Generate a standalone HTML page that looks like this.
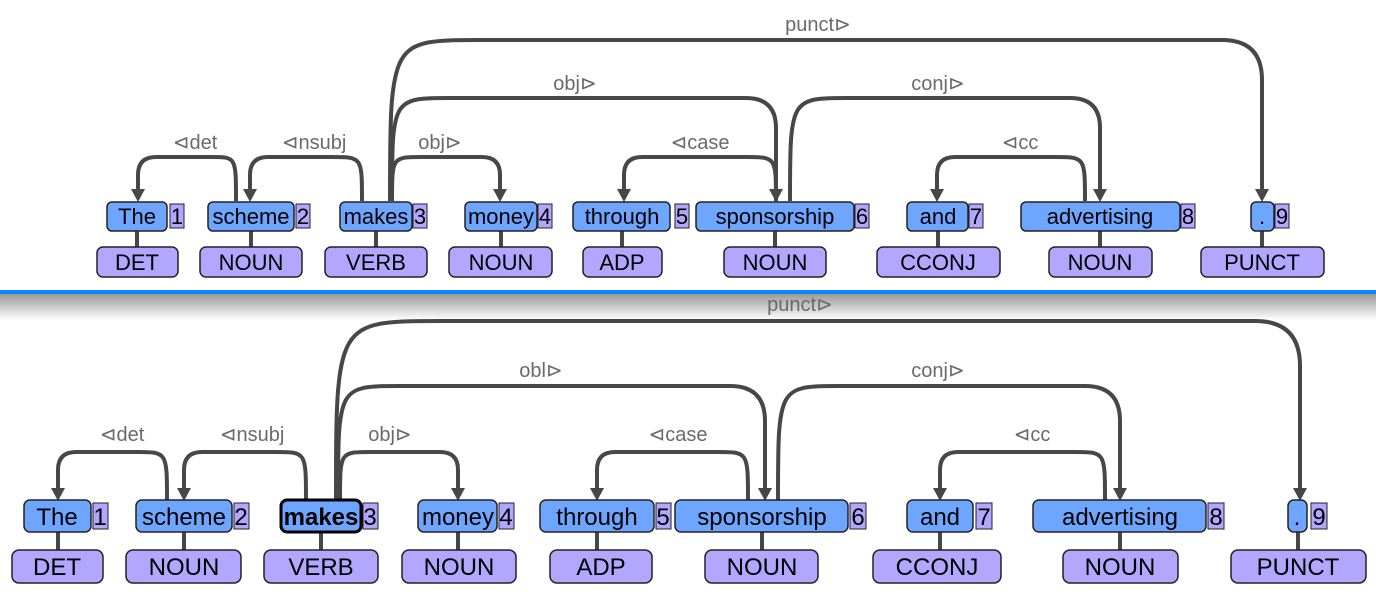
<!DOCTYPE html>
<html><head><meta charset="utf-8"><style>
html,body{margin:0;padding:0;background:#fff;width:1376px;height:594px;overflow:hidden}
svg{display:block}
text{font-family:"Liberation Sans",sans-serif}
.w{fill:#6ea6ff;stroke:#222;stroke-width:1.5}
.n{fill:#b3a6ff;stroke:#222;stroke-width:1}
.p{fill:#b3a6ff;stroke:#222;stroke-width:1.5}
.a{fill:none;stroke:#474747;stroke-width:4}
.h{fill:#474747}
.l{fill:#6a6a6a;font-size:20px;text-anchor:middle}
.t{fill:#000;text-anchor:middle}
.c{stroke:#474747;stroke-width:4}
</style></head><body>
<svg width="1376" height="594" viewBox="0 0 1376 594">
<defs><linearGradient id="g" x1="0" y1="0" x2="0" y2="1"><stop offset="0" stop-color="#9a9a9a"/><stop offset="1" stop-color="#fff"/></linearGradient></defs>
<rect x="0" y="294" width="1376" height="26" fill="url(#g)"/>
<rect x="0" y="290" width="1376" height="4" fill="#0a84ff"/>

<g>
<path class="a" d="M236,201 C236,157 236,157 212,157 L156,157 Q138,157 138,175 L138,190"/><polygon class="h" points="131,189 145,189 138,202"/>
<path class="a" d="M362,201 C362,157 362,157 332,157 L268,157 Q250,157 250,175 L250,190"/><polygon class="h" points="243,189 257,189 250,202"/>
<path class="a" d="M392,201 C392,157 392,157 422,157 L482,157 Q500,157 500,175 L500,190"/><polygon class="h" points="493,189 507,189 500,202"/>
<path class="a" d="M776,201 C776,157 776,157 746,157 L642,157 Q624,157 624,175 L624,190"/><polygon class="h" points="617,189 631,189 624,202"/>
<path class="a" d="M1085,201 C1085,157 1085,157 1055,157 L955,157 Q937,157 937,175 L937,190"/><polygon class="h" points="930,189 944,189 937,202"/>
<path class="a" d="M392,201 C392,98 392,98 450,98 L746,98 Q776,98 776,128 L776,190"/><polygon class="h" points="769,189 783,189 776,202"/>
<path class="a" d="M790,201 C790,98 790,98 848,98 L1070,98 Q1100,98 1100,128 L1100,190"/><polygon class="h" points="1093,189 1107,189 1100,202"/>
<path class="a" d="M390,201 C390,40 390,40 480,40 L1222,40 Q1262,40 1262,80 L1262,190"/><polygon class="h" points="1255,189 1269,189 1262,202"/>
<text class="l" x="195" y="149">⊲det</text>
<text class="l" x="314" y="149">⊲nsubj</text>
<text class="l" x="440" y="149">obj⊳</text>
<text class="l" x="700" y="149">⊲case</text>
<text class="l" x="1020" y="149">⊲cc</text>
<text class="l" x="575" y="90">obj⊳</text>
<text class="l" x="938" y="90">conj⊳</text>
<text class="l" x="818" y="31">punct⊳</text>
</g>
<g font-size="22">
<line class="c" x1="137" y1="231" x2="137" y2="247"/><line class="c" x1="251" y1="231" x2="251" y2="247"/><line class="c" x1="376" y1="231" x2="376" y2="247"/><line class="c" x1="501" y1="231" x2="501" y2="247"/><line class="c" x1="622" y1="231" x2="622" y2="247"/><line class="c" x1="775" y1="231" x2="775" y2="247"/><line class="c" x1="938" y1="231" x2="938" y2="247"/><line class="c" x1="1100" y1="231" x2="1100" y2="247"/><line class="c" x1="1262" y1="231" x2="1262" y2="247"/>
<rect class="w" x="107" y="202" width="60" height="29" rx="5"/><rect class="n" x="170" y="204" width="14" height="24"/>
<text class="t" x="137" y="224">The</text><text class="t" x="177" y="224">1</text>
<rect class="w" x="208" y="202" width="86" height="29" rx="5"/><rect class="n" x="296" y="204" width="14" height="24"/>
<text class="t" x="251" y="224">scheme</text><text class="t" x="303" y="224">2</text>
<rect class="w" x="340" y="202" width="72" height="29" rx="5"/><rect class="n" x="413" y="204" width="14" height="24"/>
<text class="t" x="376" y="224">makes</text><text class="t" x="420" y="224">3</text>
<rect class="w" x="465" y="202" width="72" height="29" rx="5"/><rect class="n" x="538" y="204" width="14" height="24"/>
<text class="t" x="501" y="224">money</text><text class="t" x="545" y="224">4</text>
<rect class="w" x="573" y="202" width="97" height="29" rx="5"/><rect class="n" x="675" y="204" width="14" height="24"/>
<text class="t" x="622" y="224">through</text><text class="t" x="682" y="224">5</text>
<rect class="w" x="696" y="202" width="158" height="29" rx="5"/><rect class="n" x="855" y="204" width="14" height="24"/>
<text class="t" x="775" y="224">sponsorship</text><text class="t" x="862" y="224">6</text>
<rect class="w" x="907" y="202" width="61" height="29" rx="5"/><rect class="n" x="969" y="204" width="14" height="24"/>
<text class="t" x="938" y="224">and</text><text class="t" x="976" y="224">7</text>
<rect class="w" x="1021" y="202" width="159" height="29" rx="5"/><rect class="n" x="1181" y="204" width="14" height="24"/>
<text class="t" x="1100" y="224">advertising</text><text class="t" x="1188" y="224">8</text>
<rect class="w" x="1251" y="202" width="23" height="29" rx="5"/><rect class="n" x="1275" y="204" width="14" height="24"/>
<text class="t" x="1262" y="224">.</text><text class="t" x="1282" y="224">9</text>
<rect class="p" x="97" y="247" width="81" height="30" rx="6"/><text class="t" x="137" y="270">DET</text>
<rect class="p" x="200" y="247" width="102" height="30" rx="6"/><text class="t" x="251" y="270">NOUN</text>
<rect class="p" x="325" y="247" width="102" height="30" rx="6"/><text class="t" x="376" y="270">VERB</text>
<rect class="p" x="449" y="247" width="103" height="30" rx="6"/><text class="t" x="501" y="270">NOUN</text>
<rect class="p" x="583" y="247" width="79" height="30" rx="6"/><text class="t" x="622" y="270">ADP</text>
<rect class="p" x="724" y="247" width="102" height="30" rx="6"/><text class="t" x="775" y="270">NOUN</text>
<rect class="p" x="877" y="247" width="123" height="30" rx="6"/><text class="t" x="938" y="270">CCONJ</text>
<rect class="p" x="1049" y="247" width="103" height="30" rx="6"/><text class="t" x="1100" y="270">NOUN</text>
<rect class="p" x="1201" y="247" width="123" height="30" rx="6"/><text class="t" x="1262" y="270">PUNCT</text>
</g>

<g>
<path class="a" d="M167,500 C167,452 167,452 137,452 L76,452 Q58,452 58,470 L58,489"/><polygon class="h" points="51,488 65,488 58,501"/>
<path class="a" d="M306,500 C306,452 306,452 276,452 L202,452 Q184,452 184,470 L184,489"/><polygon class="h" points="177,488 191,488 184,501"/>
<path class="a" d="M340,500 C340,452 340,452 370,452 L440,452 Q458,452 458,470 L458,489"/><polygon class="h" points="451,488 465,488 458,501"/>
<path class="a" d="M748,500 C748,452 748,452 718,452 L615,452 Q597,452 597,470 L597,489"/><polygon class="h" points="590,488 604,488 597,501"/>
<path class="a" d="M1105,500 C1105,452 1105,452 1075,452 L958,452 Q940,452 940,470 L940,489"/><polygon class="h" points="933,488 947,488 940,501"/>
<path class="a" d="M338,500 C338,386 338,386 400,386 L730,386 Q765,386 765,421 L765,489"/><polygon class="h" points="758,488 772,488 765,501"/>
<path class="a" d="M778,500 C778,386 778,386 840,386 L1085,386 Q1120,386 1120,421 L1120,489"/><polygon class="h" points="1113,488 1127,488 1120,501"/>
<path class="a" d="M336,500 C336,321 336,321 440,321 L1255,321 Q1300,321 1300,366 L1300,489"/><polygon class="h" points="1293,488 1307,488 1300,501"/>
<text class="l" x="122" y="441">⊲det</text>
<text class="l" x="252" y="441">⊲nsubj</text>
<text class="l" x="390" y="441">obj⊳</text>
<text class="l" x="678" y="441">⊲case</text>
<text class="l" x="1032" y="441">⊲cc</text>
<text class="l" x="541" y="377">obl⊳</text>
<text class="l" x="938" y="377">conj⊳</text>
<text class="l" x="800" y="311">punct⊳</text>
</g>
<g font-size="24">
<line class="c" x1="58" y1="532" x2="58" y2="550"/><line class="c" x1="184" y1="532" x2="184" y2="550"/><line class="c" x1="321" y1="532" x2="321" y2="550"/><line class="c" x1="458" y1="532" x2="458" y2="550"/><line class="c" x1="597" y1="532" x2="597" y2="550"/><line class="c" x1="762" y1="532" x2="762" y2="550"/><line class="c" x1="940" y1="532" x2="940" y2="550"/><line class="c" x1="1120" y1="532" x2="1120" y2="550"/><line class="c" x1="1298" y1="532" x2="1298" y2="550"/>
<rect class="w" x="24" y="500" width="67" height="32" rx="6"/><rect class="n" x="93" y="503" width="15" height="26"/>
<text class="t" x="57" y="525">The</text><text class="t" x="100" y="525">1</text>
<rect class="w" x="136" y="500" width="96" height="32" rx="6"/><rect class="n" x="234" y="503" width="15" height="26"/>
<text class="t" x="184" y="525">scheme</text><text class="t" x="241" y="525">2</text>
<rect class="w" x="281" y="500" width="80" height="32" rx="6" style="stroke:#000;stroke-width:3"/><rect class="n" x="363" y="503" width="15" height="26"/>
<text class="t" x="321" y="525" font-weight="bold">makes</text><text class="t" x="370" y="525">3</text>
<rect class="w" x="418" y="500" width="79" height="32" rx="6"/><rect class="n" x="499" y="503" width="15" height="26"/>
<text class="t" x="458" y="525">money</text><text class="t" x="506" y="525">4</text>
<rect class="w" x="540" y="500" width="114" height="32" rx="6"/><rect class="n" x="656" y="503" width="15" height="26"/>
<text class="t" x="597" y="525">through</text><text class="t" x="663" y="525">5</text>
<rect class="w" x="675" y="500" width="173" height="32" rx="6"/><rect class="n" x="850" y="503" width="16" height="26"/>
<text class="t" x="762" y="525">sponsorship</text><text class="t" x="858" y="525">6</text>
<rect class="w" x="907" y="500" width="66" height="32" rx="6"/><rect class="n" x="976" y="503" width="16" height="26"/>
<text class="t" x="940" y="525">and</text><text class="t" x="984" y="525">7</text>
<rect class="w" x="1033" y="500" width="173" height="32" rx="6"/><rect class="n" x="1208" y="503" width="16" height="26"/>
<text class="t" x="1120" y="525">advertising</text><text class="t" x="1216" y="525">8</text>
<rect class="w" x="1288" y="500" width="19" height="32" rx="6"/><rect class="n" x="1311" y="503" width="16" height="26"/>
<text class="t" x="1297" y="525">.</text><text class="t" x="1319" y="525">9</text>
<rect class="p" x="12" y="550" width="91" height="33" rx="7"/><text class="t" x="57" y="575">DET</text>
<rect class="p" x="126" y="550" width="115" height="33" rx="7"/><text class="t" x="184" y="575">NOUN</text>
<rect class="p" x="264" y="550" width="114" height="33" rx="7"/><text class="t" x="321" y="575">VERB</text>
<rect class="p" x="402" y="550" width="114" height="33" rx="7"/><text class="t" x="459" y="575">NOUN</text>
<rect class="p" x="550" y="550" width="102" height="33" rx="7"/><text class="t" x="601" y="575">ADP</text>
<rect class="p" x="705" y="550" width="113" height="33" rx="7"/><text class="t" x="762" y="575">NOUN</text>
<rect class="p" x="873" y="550" width="128" height="33" rx="7"/><text class="t" x="937" y="575">CCONJ</text>
<rect class="p" x="1063" y="550" width="115" height="33" rx="7"/><text class="t" x="1120" y="575">NOUN</text>
<rect class="p" x="1231" y="550" width="135" height="33" rx="7"/><text class="t" x="1298" y="575">PUNCT</text>
</g>
</svg>
</body></html>
